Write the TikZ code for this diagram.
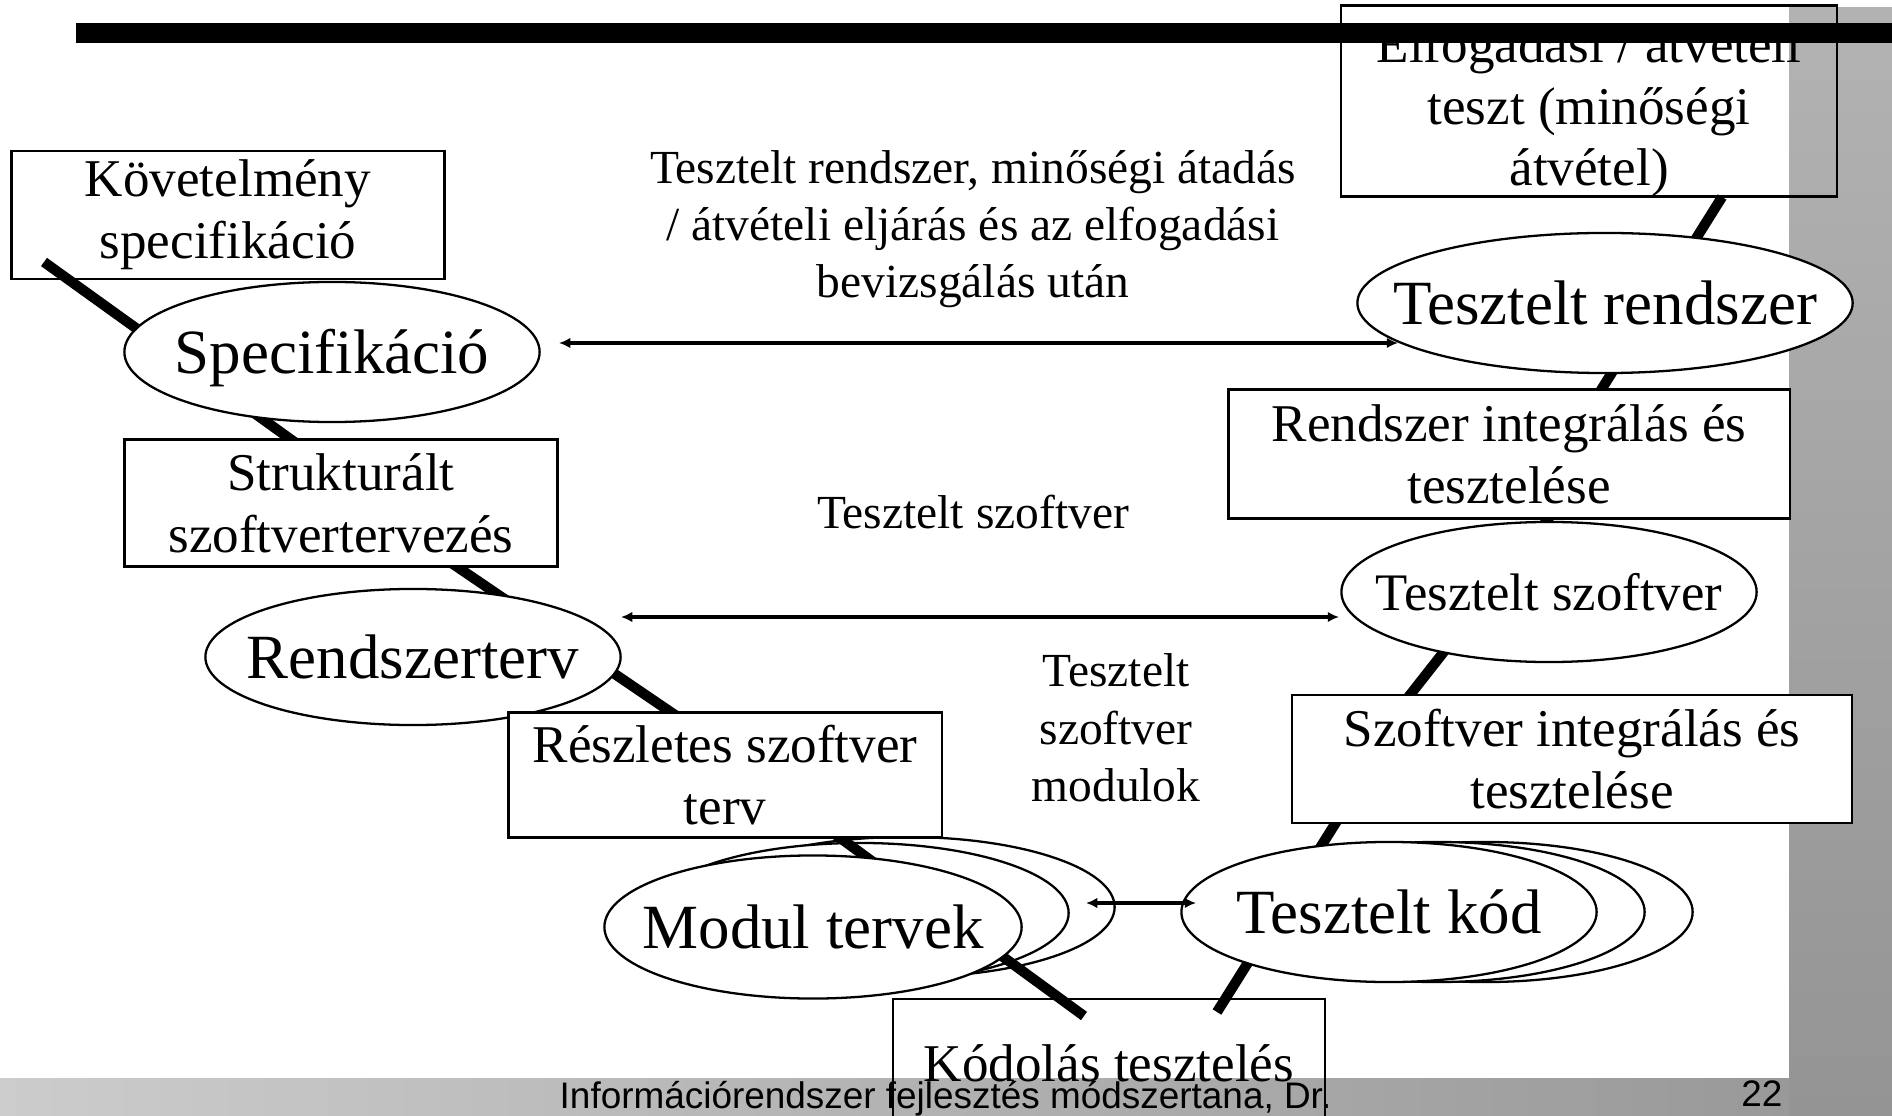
\documentclass[tikz,border=0pt]{standalone}
\usepackage{fontspec}
\setmainfont{Liberation Serif}
\newfontfamily\footfont{Liberation Sans}
\usetikzlibrary{arrows.meta,shapes.geometric}

\begin{document}
\begin{tikzpicture}[x=0.01cm,y=-0.01cm,
  every node/.style={inner sep=0pt,align=center},
  boxtext/.style={font=\fontsize{15.1pt}{17.6pt}\selectfont},
  box/.style={draw,fill=white,line width=.65pt,minimum width=4.33cm,minimum height=1.28cm,boxtext},
  openbox/.style={box,fill=none},
  bigtext/.style={font=\fontsize{17.9pt}{20pt}\selectfont},
  midtext/.style={font=\fontsize{15pt}{17pt}\selectfont},
  ovalshape/.style={ellipse,draw,fill=white,line width=.65pt,minimum width=4.15cm,minimum height=1.4cm},
  oval/.style={ovalshape,label={[bigtext]center:#1}},
  oval/.default={},
  ovalmid/.style={ovalshape,label={[midtext]center:#1}},
  vline/.style={line width=2.9pt},
  dbl/.style={{Latex[length=3.2pt,width=3pt]}-{Latex[length=3.2pt,width=3pt]},line width=1pt},
  lbl/.style={font=\fontsize{13.5pt}{16.3pt}\selectfont}]
  \clip (0,0) rectangle (1892,1116);

  % slide background
  \shade[top color=black!30,bottom color=black!42] (1789,8) rectangle (1892,1116);
  \shade[left color=black!20,right color=black!40] (0,1078) rectangle (1789,1116);

  % stacked ellipses behind
  \node[oval,minimum width=4.17cm] (modul3) at (906,907) {};
  \node[oval,minimum width=4.17cm] (modul2) at (860,913) {};
  \node[oval] (kod3) at (1485,912) {};
  \node[oval] (kod2) at (1437,912) {};

  % the V
  \coordinate (v0) at (44,262);
  \coordinate (v1) at (300,446);
  \coordinate (v2) at (450,562);
  \coordinate (v3) at (678,717);
  \coordinate (v4) at (832,832);
  \coordinate (v5) at (1084,1016);
  \coordinate (v6) at (1217,1012);
  \coordinate (v7) at (1340,816);
  \coordinate (v8) at (1406,700);
  \coordinate (v9) at (1552,514);
  \coordinate (v10) at (1596,398);
  \coordinate (v11) at (1722,197);
  \foreach \from/\to in {v0/v1,v2/v3,v4/v5,v6/v7,v8/v9,v10/v11}
    \draw[vline] (\from) -- (\to);

  \node[ovalshape,label={[bigtext,yshift=-0.06cm]center:Specifikáció}] (spec) at (332,352) {};
  \node[oval=Rendszerterv,minimum height=1.36cm] (rterv) at (413,657) {};
  \node[oval=Modul tervek,minimum width=4.17cm,minimum height=1.43cm] (modul) at (813,927) {};
  \node[oval=Tesztelt kód] (kod) at (1389,912) {};
  \node[ovalmid=Tesztelt szoftver] (tszoft) at (1549,592) {};
  \node[oval=Tesztelt rendszer,minimum width=4.95cm] (trend) at (1605,303) {};

  \node[openbox] (kov) at (228,215) {Követelmény\\specifikáció};
  \node[box,minimum height=1.27cm] (strukt) at (341,503) {Strukturált\\szoftvertervezés};
  \node[box,minimum height=1.25cm] (reszl) at (725,775) {Részletes szoftver\\terv};
  \node[openbox,minimum width=4.32cm] (kodolas) at (1109,1063) {Kódolás tesztelés};
  \node[box,minimum width=5.6cm] (szoftint) at (1572,759) {Szoftver integrálás és\\tesztelése};
  \node[box,minimum width=5.61cm,minimum height=1.29cm] (rendint) at (1509,454) {Rendszer integrálás és\\tesztelése};
  \node[openbox,minimum width=4.96cm,minimum height=1.91cm] (elfog) at (1589,101) {};
  \node[boxtext] (elfogtext) at ([yshift=-0.1cm]elfog.center) {Elfogadási / átvételi\\teszt (minőségi\\átvétel)};

  % arrows between the two sides
  \coordinate (a1l) at (559,343);
  \coordinate (a1r) at (1398,343);
  \coordinate (a2l) at (621,617);
  \coordinate (a2r) at (1339,617);
  \coordinate (a3l) at (1086,903);
  \coordinate (a3r) at (1196,903);
  \foreach \from/\to in {a1l/a1r,a2l/a2r,a3l/a3r}
    \draw[dbl] (\from) -- (\to);

  \node[lbl] (lab1) at (973,229) {Tesztelt rendszer, minőségi átadás\\/ átvételi eljárás és az elfogadási\\bevizsgálás után};
  \node[lbl] (lab2) at (973,512) {Tesztelt szoftver};
  \node[lbl] (lab3) at (1116,728) {Tesztelt\\szoftver\\modulok};

  % footer
  \node[anchor=base west,font=\footfont\fontsize{10.5pt}{12pt}\selectfont] (foot) at (559,1108) {Információrendszer fejlesztés módszertana, Dr.};
  \node[anchor=base east,font=\footfont\fontsize{10.5pt}{12pt}\selectfont] (page) at (1783,1106) {22};

  \fill (76,23) rectangle (1892,43);
\end{tikzpicture}
\end{document}
